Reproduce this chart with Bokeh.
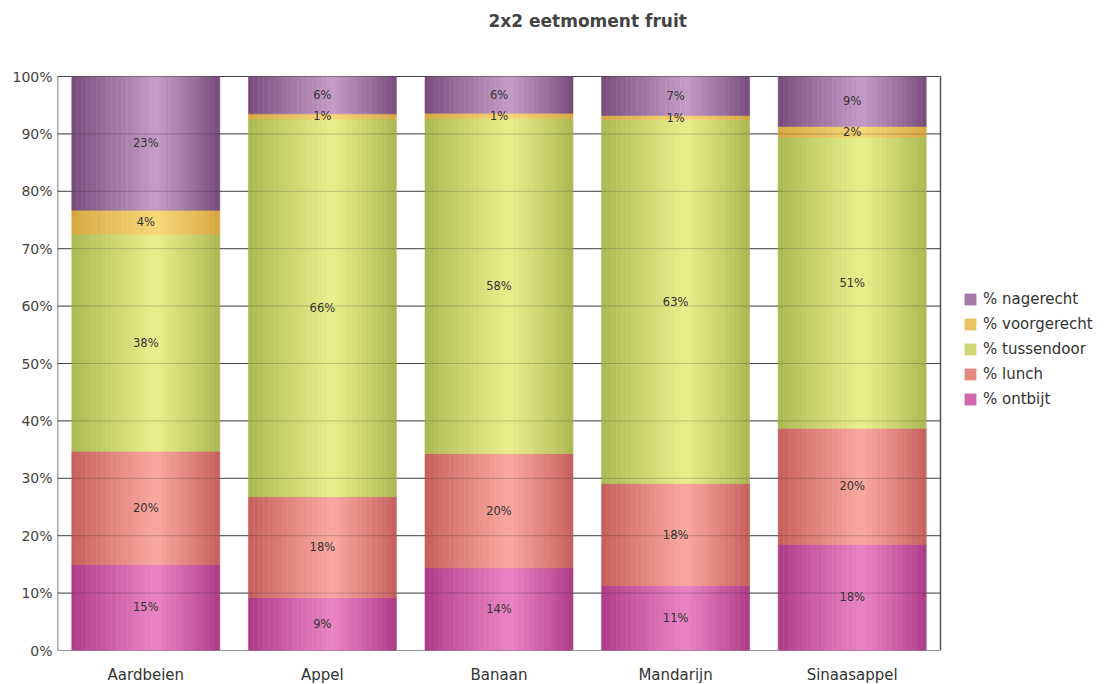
import numpy as np
from bokeh.plotting import figure
from bokeh.models import ColumnDataSource, FixedTicker, Legend, LegendItem, PrintfTickFormatter, Range1d
from bokeh.core.properties import value
from bokeh.embed import file_html
from bokeh.resources import INLINE

categories = ["Aardbeien", "Appel", "Banaan", "Mandarijn", "Sinaasappel"]
series_names = ["% ontbijt", "% lunch", "% tussendoor", "% voorgerecht", "% nagerecht"]
ontbijt = [15.0, 9.2, 14.4, 11.3, 18.5]
lunch = [19.7, 17.6, 19.9, 17.8, 20.2]
tussendoor = [37.8, 65.8, 58.4, 63.4, 50.7]
voorgerecht = [4.2, 0.9, 0.9, 0.7, 1.9]
nagerecht = [23.3, 6.5, 6.4, 6.8, 8.7]
y_ticks = [0, 10, 20, 30, 40, 50, 60, 70, 80, 90, 100]

series_values = [ontbijt, lunch, tussendoor, voorgerecht, nagerecht]
# (dark edge, light highlight) for cylinder-like shading
shades = [
    ((0xAC, 0x3A, 0x86), (0xEA, 0x84, 0xC4)),
    ((0xC4, 0x5E, 0x5A), (0xFA, 0xA8, 0xA0)),
    ((0xAA, 0xB8, 0x52), (0xEA, 0xEE, 0x8C)),
    ((0xD6, 0xA6, 0x40), (0xF8, 0xD8, 0x78)),
    ((0x76, 0x4A, 0x7A), (0xC4, 0x9C, 0xC6)),
]

N = 30
bar_w = 0.838
peak = 0.57
ncat = len(categories)
FRAME_W = 1046
PLOT_W = 883    # pixels covered by the category area
FRAME_H = 612
PLOT_H = 574    # pixels covered by 0..100 %
x_max = ncat * FRAME_W / PLOT_W
y_max = 100 * FRAME_H / PLOT_H


def profile(t):
    if t < peak:
        return (t / peak) ** 0.9
    return ((1 - t) / (1 - peak)) ** 0.9


def mix(c0, c1, w):
    return "#%02x%02x%02x" % tuple(int(round(a + (b - a) * w)) for a, b in zip(c0, c1))


p = figure(frame_width=FRAME_W, frame_height=FRAME_H, output_backend="svg", toolbar_location=None,
           x_range=Range1d(0, x_max), y_range=Range1d(0, y_max),
           min_border_left=57, min_border_right=8, min_border_top=37, min_border_bottom=35,
           title="2x2 eetmoment fruit")
p.title.align = "left"
p.title.text_font = "DejaVu Sans"
p.title.text_font_size = "17px"
p.title.text_font_style = "bold"
p.title.text_color = "#444444"
p.title.offset = 431
p.title.standoff = 16

# horizontal grid lines, left axis line and right border of the plot area (behind the bars)
p.segment(x0=[0] * len(y_ticks), x1=[ncat] * len(y_ticks), y0=y_ticks, y1=y_ticks,
          line_color="#555555", line_width=1, level="underlay")
p.segment(x0=[0, ncat], x1=[0, ncat], y0=[0, 0], y1=[100, 100], line_color="#555555",
          line_width=1.5, level="underlay")

bottoms = np.zeros(ncat)
renderers = []
lab_x, lab_y, lab_t = [], [], []
for s, vals in enumerate(series_values):
    vals = np.array(vals)
    left, right, bot, top, col = [], [], [], [], []
    dark, light = shades[s]
    for i in range(ncat):
        x0 = i + 0.5 - bar_w / 2
        for k in range(N):
            t = (k + 0.5) / N
            left.append(x0 + bar_w * k / N)
            right.append(x0 + bar_w * (k + 1) / N)
            bot.append(bottoms[i])
            top.append(bottoms[i] + vals[i])
            col.append(mix(dark, light, profile(t)))
        lab_x.append(i + 0.5)
        lab_y.append(bottoms[i] + vals[i] / 2)
        lab_t.append("%d%%" % int(round(vals[i])))
    src = ColumnDataSource(dict(left=left, right=right, bottom=bot, top=top, color=col))
    r = p.quad(left="left", right="right", bottom="bottom", top="top", source=src,
               fill_color="color", line_color="color", line_width=0.6)
    renderers.append(r)
    bottoms = bottoms + vals

# faint grid lines showing through the bars
p.segment(x0=[0] * len(y_ticks), x1=[ncat] * len(y_ticks), y0=y_ticks, y1=y_ticks,
          line_color="#222222", line_alpha=0.22, line_width=1)

p.text(x=lab_x, y=lab_y, text=lab_t, text_font=value("DejaVu Sans"), text_font_size="11.5px",
       text_color="#333333", text_align="center", text_baseline="middle")

items = [LegendItem(label=series_names[s], renderers=[renderers[s]], index=9)
         for s in range(len(series_names))][::-1]
legend = Legend(items=items, location=(906, 242), label_text_font="DejaVu Sans",
                label_text_font_size="15px", label_text_color="#333333",
                glyph_width=14, glyph_height=14, label_height=18, spacing=7,
                border_line_color=None, background_fill_alpha=0, padding=4, margin=0,
                label_standoff=6)
p.add_layout(legend)

p.xaxis.ticker = FixedTicker(ticks=[i + 0.5 for i in range(ncat)])
p.xaxis.major_label_overrides = {i + 0.5: c for i, c in enumerate(categories)}
p.xaxis.major_tick_line_color = None
p.xaxis.minor_tick_line_color = None
p.xaxis.major_label_text_font = "DejaVu Sans"
p.xaxis.major_label_text_font_size = "15px"
p.xaxis.major_label_text_color = "#333333"
p.xaxis.major_label_standoff = 9
p.xaxis.axis_line_color = None

p.yaxis.ticker = FixedTicker(ticks=y_ticks)
p.yaxis.formatter = PrintfTickFormatter(format="%d%%")
p.yaxis.minor_tick_line_color = None
p.yaxis.major_tick_in = 0
p.yaxis.major_tick_out = 0
p.yaxis.axis_line_color = None
p.yaxis.major_label_text_font = "DejaVu Sans"
p.yaxis.major_label_text_font_size = "14px"
p.yaxis.major_label_text_color = "#444444"
p.yaxis.major_label_standoff = 5

p.xgrid.visible = False
p.ygrid.visible = False
p.outline_line_color = None
p.background_fill_color = "white"
p.border_fill_color = "white"

open("out.html", "w").write(file_html(p, INLINE))
